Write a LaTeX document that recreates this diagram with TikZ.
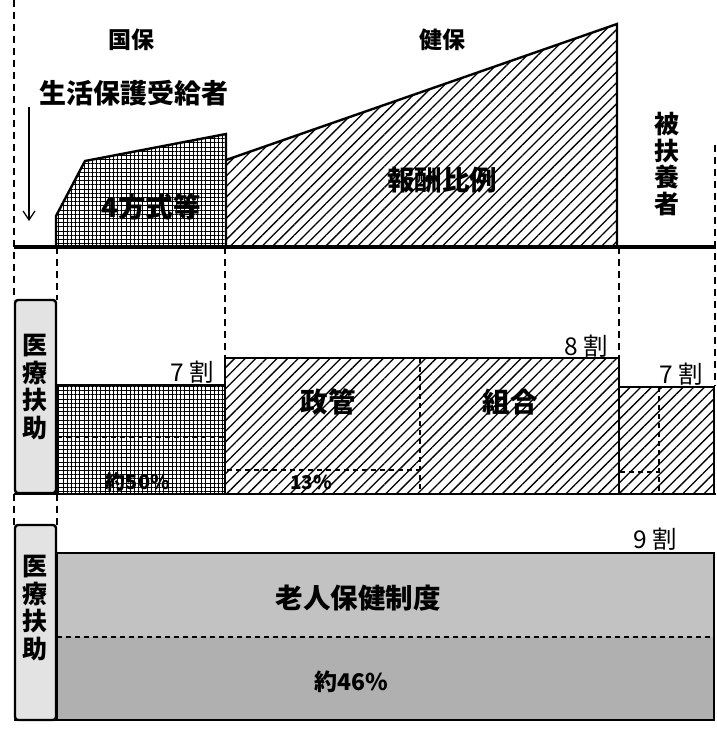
\documentclass[tikz,border=0pt]{standalone}
\usepackage{fontspec}
\setmainfont{Noto Sans CJK JP}
\newfontfamily\jp{Noto Sans CJK JP}
\usetikzlibrary{patterns.meta,arrows.meta}
\begin{document}
\begin{tikzpicture}[x=1pt,y=-1pt,
  guide/.style={line width=1.3pt,dash pattern=on 7pt off 5pt},
  outline/.style={line width=2.4pt,line join=miter},
  gridfill/.style={pattern={Hatch[angle=0,distance=4.2pt,line width=1pt]}},
  hatchfill/.style={pattern={Lines[angle=45,distance=7.5pt,line width=1.3pt]}},
  lightdots/.style={fill=gray!22},
  greyupper/.style={fill=gray!48},
  greylower/.style={fill=gray!62},
  innerdash/.style={line width=1.1pt,dash pattern=on 5pt off 4pt},
  head/.style={font=\jp\bfseries\fontsize{23}{25}\selectfont},
  lab/.style={font=\jp\bfseries\fontsize{27}{29}\selectfont},
  boldlab/.style={font=\jp\bfseries\fontsize{27.5}{29}\selectfont},
  pctlab/.style={font=\jp\bfseries\fontsize{20}{22}\selectfont},
  ratio/.style={font=\jp\fontsize{24.5}{26}\selectfont,anchor=base east,inner sep=0pt},
  vert/.style={font=\jp\bfseries\fontsize{25}{27.5}\selectfont,align=center,inner sep=0pt},
  vertlight/.style={font=\jp\bfseries\fontsize{25}{26.5}\selectfont,align=center,inner sep=0pt}
]
\useasboundingbox (0,0) rectangle (716,731);

% ---------- dashed guide lines ----------
\draw[guide] (14,0) -- (14,300);
\draw[guide] (57,247) -- (57,300);
\draw[guide] (225,247) -- (225,358);
\draw[guide] (619,247) -- (619,358);
\draw[guide] (715,145) -- (715,386);
\draw[guide] (14,494) -- (14,525);
\draw[guide] (57,494) -- (57,525);

% ---------- top panel ----------
\path[gridfill] (56,247) -- (56,216) -- (85,161) -- (226,134) -- (226,247) -- cycle;
\draw[outline] (56,247) -- (56,216) -- (85,161) -- (226,134) -- (226,247);
\path[hatchfill] (226,160) -- (617,24) -- (617,247) -- (226,247) -- cycle;
\draw[outline] (226,160) -- (617,24) -- (617,247);
\draw[line width=3.5pt] (14,247) -- (716,247);

\node[head] (kokuho) at (131,40) {国保};
\node[head] (kenpo) at (442,40) {健保};
\node[lab] (seikatsu) at (134,93) {生活保護受給者};
\coordinate (arrS) at (29,107);
\coordinate (arrE) at (29,221);
\draw[line width=1.2pt,-{Straight Barb[length=9pt,width=12pt,line width=1.2pt]}] (arrS) -- (arrE);
\node[boldlab] (shiki) at (151,207) {4方式等};
\node[boldlab] (houshu) at (442,180) {報酬比例};
\node[vertlight] (fuyou) at (667,164) {被\\扶\\養\\者};

% ---------- middle panel ----------
\draw[outline,lightdots,rounded corners=3pt] (15,300) rectangle (56,493);
\node[vert] (iryo1) at (35.5,387) {医\\療\\扶\\助};

\path[gridfill] (57,385) rectangle (225,493);
\draw[outline] (57,493) -- (57,385) -- (225,385);
\draw[innerdash] (57,437) -- (225,437);

\path[hatchfill] (225,358) rectangle (619,493);
\draw[outline] (225,493) -- (225,358) -- (619,358) -- (619,493);
\draw[innerdash] (420,358) -- (420,493);
\draw[innerdash] (227,470) -- (420,470);

\path[hatchfill] (619,387) rectangle (714,493);
\draw[outline] (619,387) -- (714,387) -- (714,493);
\draw[innerdash] (659,387) -- (659,493);
\draw[innerdash] (620,472) -- (659,472);

\draw[line width=2.6pt] (14,494) -- (716,494);

\node[ratio] (r7a) at (214,381) {7 割};
\node[ratio] (r8) at (608,355) {8 割};
\node[ratio] (r7b) at (703,383) {7 割};
\node[boldlab] (seikan) at (328,402) {政管};
\node[boldlab] (kumiai) at (510,402) {組合};
\node[pctlab] (p50) at (138,482) {約50\%};
\node[pctlab,font=\jp\bfseries\fontsize{19}{21}\selectfont] (p13) at (311,482) {13\%};

% ---------- bottom panel ----------
\draw[outline,lightdots,rounded corners=3pt] (15,525) rectangle (56,720);
\node[vert] (iryo2) at (35.5,608) {医\\療\\扶\\助};

\path[greyupper] (57,553) rectangle (714,637);
\path[greylower] (57,637) rectangle (714,720);
\draw[outline] (57,720) -- (57,553) -- (714,553) -- (714,720) -- (14,720);
\draw[innerdash] (57,637) -- (714,637);

\node[ratio] (r9) at (677,548) {9 割};
\node[boldlab] (roujin) at (358,598) {老人保健制度};
\node[pctlab,font=\jp\bfseries\fontsize{23}{25}\selectfont] (p46) at (351,682) {約46\%};
\end{tikzpicture}
\end{document}
